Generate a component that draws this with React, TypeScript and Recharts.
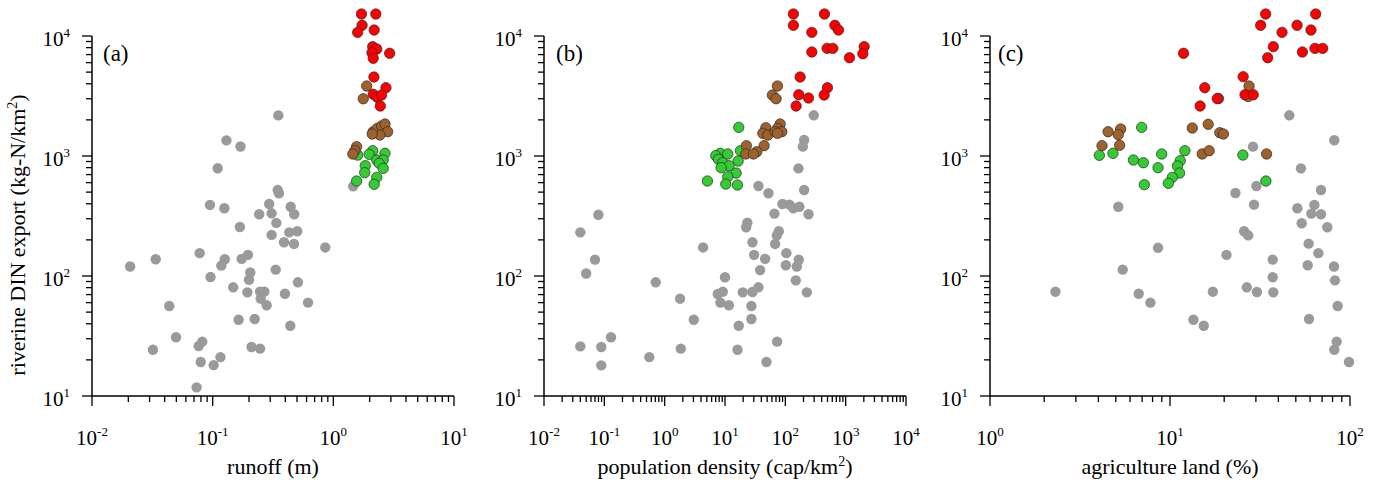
import React from 'react';
import { ScatterChart, Scatter, XAxis, YAxis, ReferenceLine } from 'recharts';

type Pt = [number, number];

const FONT = '"Liberation Serif", "Times New Roman", Times, serif';

// ---------- tick decades ----------
const decadeSteps = [1, 2, 3, 4, 5, 6, 7, 8, 9];
const runoffDecades = [-2, -1, 0, 1];
const popDecades = [-2, -1, 0, 1, 2, 3, 4];
const agriDecades = [0, 1, 2];
const exportDecades = [1, 2, 3, 4];

const buildTicks = (decades: number[]) => {
  const out: number[] = [];
  decades.forEach((e, i) => {
    if (i === decades.length - 1) out.push(Math.pow(10, e));
    else decadeSteps.forEach((m) => out.push(m * Math.pow(10, e)));
  });
  return out;
};

// ---------- panel (a): runoff (m) ----------
const runoffGray: Pt[] = [
  [0.35, 2180], [0.13, 1350], [0.17, 1200], [0.11, 790], [0.346, 521], [0.354, 489], [0.095, 391],
  [0.125, 367], [0.294, 398], [0.443, 378], [0.243, 327], [0.308, 333], [0.474, 327], [0.337, 277],
  [0.168, 256], [0.431, 231], [0.502, 236], [0.308, 220], [0.39, 191], [0.472, 185], [0.857, 173],
  [0.0207, 120], [0.0337, 138], [0.078, 155], [0.126, 138], [0.118, 122], [0.174, 139], [0.196, 150],
  [0.096, 98], [0.205, 107], [0.2, 93], [0.333, 113], [0.509, 88.6], [0.148, 80.5], [0.194, 73.1],
  [0.247, 74], [0.268, 74], [0.25, 64.7], [0.28, 57], [0.397, 71.2], [0.617, 60], [0.0437, 56.2],
  [0.164, 43.2], [0.223, 43.8], [0.44, 38.5], [0.0497, 30.9], [0.032, 24.3], [0.082, 28.4],
  [0.0766, 26.1], [0.21, 25.6], [0.247, 24.8], [0.116, 21.1], [0.0796, 19.2], [0.102, 18.1],
  [0.0736, 11.8], [1.46, 559],
];
const runoffGreen: Pt[] = [
  [2.12, 1107], [2.68, 1053], [1.98, 1033], [2.29, 926], [2.59, 926], [2.4, 869], [1.84, 830],
  [2.59, 789], [1.82, 726], [2.29, 664], [1.56, 619], [2.18, 581], [1.59, 1019],
];
const runoffBrown: Pt[] = [
  [1.89, 3830], [1.77, 3000], [2.14, 1594], [2.31, 1700], [2.51, 1778], [2.68, 1848], [2.82, 1594],
  [2.43, 1496], [2.1, 1526], [1.56, 1196], [1.51, 1107], [1.45, 1040],
];
const runoffRed: Pt[] = [
  [1.71, 15250], [2.25, 15250], [1.73, 12280], [1.59, 10730], [2.18, 11220], [2.12, 8150],
  [2.29, 7790], [2.09, 7260], [2.14, 6520], [2.93, 7180], [2.17, 4550], [2.73, 3710], [2.14, 3270],
  [2.31, 3090], [2.51, 3220], [2.45, 2610],
];

// ---------- panel (b): population density ----------
const popGray: Pt[] = [
  [296, 2183], [205, 1360], [195, 1196], [165, 789], [205, 521], [35.8, 562], [52.5, 489], [89.5, 398],
  [117, 393], [136, 367], [171, 378], [242, 327], [65.9, 331], [0.0796, 324], [0.04, 231], [23.5, 278],
  [22.4, 255], [78, 236], [72.3, 218], [28.5, 191], [67.8, 185], [4.33, 173], [30.4, 150], [104, 155],
  [46.2, 139], [167, 137], [102, 123], [155, 120], [0.07, 137], [0.05, 105], [10.0, 97.6], [38.2, 112],
  [0.711, 88.6], [149, 92], [227, 73.1], [9.19, 74], [7.59, 70.8], [19.7, 73.1], [28.5, 73.6],
  [35.8, 80.5], [1.8, 64.7], [8.39, 60], [11.6, 57], [27.4, 56.2], [3.04, 43.2], [27.4, 43.8],
  [16.9, 38.5], [0.129, 30.9], [0.04, 25.9], [0.089, 25.6], [1.85, 24.8], [16.1, 24.3], [73.1, 28.4],
  [0.557, 21.1], [0.089, 18.0], [48.6, 19.2],
];
const popGreen: Pt[] = [
  [16.9, 1733], [18.0, 1107], [8.3, 1053], [11.1, 1040], [7.03, 1006], [7.78, 938], [9.19, 879],
  [16.5, 908], [11.7, 830], [8.61, 799], [15.3, 721], [11.1, 672], [5.11, 619], [10.3, 584], [16.1, 573],
];
const popBrown: Pt[] = [
  [74, 3830], [61, 3220], [70.3, 3000], [47.5, 1720], [42.4, 1546], [51.3, 1496], [82, 1848], [74, 1700],
  [87.5, 1594], [67.8, 1594], [74, 1546], [22.6, 1219], [44.5, 1219], [33.7, 1086], [22.1, 1040],
  [29.6, 1040],
];
const popRed: Pt[] = [
  [136, 15250], [445, 15250], [136, 12280], [662, 12280], [760, 11220], [275, 10730], [275, 7360],
  [493, 7890], [613, 7890], [2027, 8150], [1928, 7120], [1157, 6590], [176, 4550], [499, 3710],
  [167, 3240], [242, 3043], [440, 3220], [151, 2610],
];

// ---------- panel (c): agriculture land (%) ----------
const agriGray: Pt[] = [
  [46.0, 2183], [81.8, 1352], [28.9, 1196], [53.4, 789], [30.2, 562], [23.1, 492], [69.0, 521],
  [29.3, 393], [51.0, 367], [63.4, 391], [61.0, 331], [69.0, 327], [53.9, 275], [74.8, 255], [5.16, 378],
  [25.8, 236], [27.2, 218], [58.9, 186], [66.7, 155], [20.6, 150], [8.58, 172], [37.2, 137], [58.2, 123],
  [81.5, 120], [5.46, 113], [37.2, 97.6], [82.5, 92], [2.31, 74], [6.7, 71.2], [7.78, 60], [17.3, 74],
  [26.7, 80.5], [30.4, 73.6], [37.5, 73.1], [85.4, 56.2], [13.5, 43.2], [15.4, 38.5], [59.2, 43.8],
  [84.3, 28.4], [81.8, 24.3], [98.7, 19.2],
];
const agriGreen: Pt[] = [
  [6.96, 1733], [4.05, 1013], [4.82, 1053], [6.26, 926], [7.11, 879], [8.99, 1040], [12.1, 1107],
  [8.58, 799], [11.4, 914], [11.0, 826], [11.3, 721], [10.3, 664], [9.79, 592], [7.2, 577], [25.4, 1019],
  [34.1, 619],
];
const agriBrown: Pt[] = [
  [27.5, 3830], [27.2, 3130], [18.6, 3010], [4.53, 1594], [5.32, 1679], [5.16, 1505], [4.19, 1219],
  [5.25, 1228], [13.3, 1711], [16.3, 1837], [18.9, 1563], [19.8, 1526], [15.1, 1040], [16.5, 1107],
  [34.4, 1040],
];
const agriRed: Pt[] = [
  [34.0, 15250], [64.5, 15250], [31.9, 12280], [50.8, 12280], [41.9, 10730], [60.7, 11220],
  [37.5, 8150], [34.9, 6590], [54.4, 7360], [63.9, 7890], [70.5, 7890], [11.9, 7180], [25.5, 4580],
  [15.6, 3710], [18.3, 3010], [14.7, 2610], [26.1, 3240], [29.0, 3240],
];

// ---------- styling ----------
const GRAY = '#9a9a9a';
const GREEN = '#33cc33';
const BROWN = '#a0612d';
const RED = '#ff0000';
const Y_MIN = 10;
const Y_AXIS_TOP = 10000;
const Y_DOMAIN_TOP = Math.pow(10, 4.3);

const isMajor = (v: number) => {
  const l = Math.log10(v);
  return Math.abs(l - Math.round(l)) < 1e-6;
};

const XTick = (props: any) => {
  const { x, y, payload } = props;
  const v = payload.value as number;
  const major = isMajor(v);
  const e = Math.round(Math.log10(v));
  return (
    <g>
      <line x1={x} x2={x} y1={y} y2={y + (major ? 10 : 6)} stroke="#000" strokeWidth={1.3} />
      {major && (
        <text x={x} y={y + 49} textAnchor="middle" fontFamily={FONT} fontSize={21} fill="#000">
          <tspan>10</tspan>
          <tspan dy={-9} fontSize={13}>{String(e)}</tspan>
        </text>
      )}
    </g>
  );
};

const YTick = (props: any) => {
  const { x, y, payload } = props;
  const v = payload.value as number;
  const major = isMajor(v);
  const e = Math.round(Math.log10(v));
  return (
    <g>
      <line x1={x} x2={x - (major ? 10 : 6)} y1={y} y2={y} stroke="#000" strokeWidth={1.3} />
      {major && (
        <text x={x - 22} y={y + 10} textAnchor="end" fontFamily={FONT} fontSize={21} fill="#000">
          <tspan>10</tspan>
          <tspan dy={-9} fontSize={13}>{String(e)}</tspan>
        </text>
      )}
    </g>
  );
};

const dot = (fill: string, stroke: string) => (p: any) =>
  p.cx == null || p.cy == null ? <g /> : (
    <circle cx={p.cx} cy={p.cy} r={5.2} fill={fill} stroke={stroke} strokeWidth={0.7} />
  );

const toData = (pts: Pt[]) => pts.map(([x, y]) => ({ x, y }));

type PanelProps = {
  left: number;
  rightMargin: number;
  decades: number[];
  letter: string;
  letterDx: number;
  xTitle: React.ReactNode;
  showYTitle: boolean;
  gray: Pt[];
  green: Pt[];
  brown: Pt[];
  red: Pt[];
};

const Panel = ({ left, rightMargin, decades, letter, letterDx, xTitle, showYTitle, gray, green, brown, red }: PanelProps) => {
  const xMin = Math.pow(10, decades[0]);
  const xMax = Math.pow(10, decades[decades.length - 1]);
  const xTicks = buildTicks(decades);
  const yTicks = buildTicks(exportDecades);
  return (
    <div style={{ position: 'absolute', left, top: 0 }}>
      <ScatterChart width={470} height={484} margin={{ top: 0, right: rightMargin, bottom: 0, left: 0 }}>
        <XAxis
          type="number"
          dataKey="x"
          scale="log"
          domain={[xMin, xMax]}
          ticks={xTicks}
          interval={0}
          tick={<XTick />}
          tickSize={0}
          tickMargin={0}
          tickLine={false}
          axisLine={{ stroke: '#000', strokeWidth: 1.5 }}
          height={88}
          label={(p: any) => {
            const vb = p.viewBox || p;
            return (
              <text x={vb.x + vb.width / 2} y={vb.y + 78} textAnchor="middle" fontFamily={FONT} fontSize={22} fill="#000">
                {xTitle}
              </text>
            );
          }}
        />
        <YAxis
          type="number"
          dataKey="y"
          scale="log"
          domain={[Y_MIN, Y_DOMAIN_TOP]}
          ticks={yTicks}
          interval={0}
          tick={<YTick />}
          tickSize={0}
          tickMargin={0}
          tickLine={false}
          axisLine={false}
          width={92}
          label={
            showYTitle
              ? (p: any) => {
                  const vb = p.viewBox || p;
                  const tx = vb.x + 25;
                  const ty = vb.y + 235;
                  return (
                    <text x={tx} y={ty} transform={`rotate(-90 ${tx} ${ty})`} textAnchor="middle" fontFamily={FONT} fontSize={22} fill="#000">
                      <tspan>riverine DIN export (kg-N/km</tspan>
                      <tspan dy={-8} fontSize={14}>2</tspan>
                      <tspan dy={8}>)</tspan>
                    </text>
                  );
                }
              : undefined
          }
        />
        <ReferenceLine
          segment={[{ x: xMin, y: Y_MIN }, { x: xMin, y: Y_AXIS_TOP }]}
          stroke="#000"
          strokeWidth={1.5}
        />
        <Scatter data={toData(gray)} fill={GRAY} shape={dot(GRAY, 'none')} isAnimationActive={false} />
        <Scatter data={toData(green)} fill={GREEN} shape={dot(GREEN, '#2a2a2a')} isAnimationActive={false} />
        <Scatter data={toData(brown)} fill={BROWN} shape={dot(BROWN, '#2a2a2a')} isAnimationActive={false} />
        <Scatter data={toData(red)} fill={RED} shape={dot(RED, '#2a2a2a')} isAnimationActive={false} />
        <text x={92 + letterDx} y={61} fontFamily={FONT} fontSize={23} fill="#000">{letter}</text>
      </ScatterChart>
    </div>
  );
};

export default function App() {
  return (
    <div style={{ position: 'absolute', left: 0, top: 0, width: 1383, height: 484, background: '#fff', overflow: 'hidden' }}>
      <Panel
        left={0}
        rightMargin={16}
        decades={runoffDecades}
        letter="(a)"
        letterDx={11}
        xTitle="runoff (m)"
        showYTitle
        gray={runoffGray}
        green={runoffGreen}
        brown={runoffBrown}
        red={runoffRed}
      />
      <Panel
        left={452}
        rightMargin={16}
        decades={popDecades}
        letter="(b)"
        letterDx={12}
        xTitle={
          <>
            <tspan>population density (cap/km</tspan>
            <tspan dy={-8} fontSize={14}>2</tspan>
            <tspan dy={8}>)</tspan>
          </>
        }
        showYTitle={false}
        gray={popGray}
        green={popGreen}
        brown={popBrown}
        red={popRed}
      />
      <Panel
        left={898}
        rightMargin={18}
        decades={agriDecades}
        letter="(c)"
        letterDx={8}
        xTitle="agriculture land (%)"
        showYTitle={false}
        gray={agriGray}
        green={agriGreen}
        brown={agriBrown}
        red={agriRed}
      />
    </div>
  );
}
